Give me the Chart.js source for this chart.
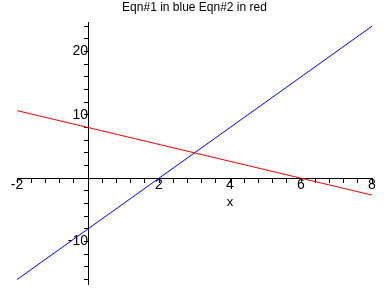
<!DOCTYPE html>
<html>
<head>
<meta charset="utf-8">
<script src="https://cdn.jsdelivr.net/npm/chart.js@4"></script>
<style>
  html, body { margin: 0; padding: 0; background: #fff; }
  #wrap { width: 388px; height: 288px; }
</style>
</head>
<body>
<div id="wrap"><canvas id="grafico" width="388" height="288"></canvas></div>
<script>
// datos
const xValores = [-2, 8];
const azulValores = [-16, 24];
const rojoValores = [10.67, -2.67];

const xEtiquetas = [-2, 2, 4, 6, 8];
const yEtiquetas = [-10, 10, 20];

// marcas menores
const xMarcas = [];
for (let i = -20; i <= 80; i += 4) {
    xMarcas.push(i / 10);
}
const yMarcas = [];
for (let i = -16; i <= 24; i += 2) {
    yMarcas.push(i);
}

const fuente = { family: "'Liberation Sans', Arial, sans-serif", size: 12, weight: "normal" };
const fuenteEje = { family: "'Liberation Sans', Arial, sans-serif", size: 14, weight: "normal" };

function puntos(ys) {
    return xValores.map((x, i) => ({ x: x, y: ys[i] }));
}

function tieneEtiqueta(lista, v) {
    return lista.some(e => Math.abs(e - v) < 1e-9);
}

// etiqueta "x" debajo del eje
const etiquetaX = {
    id: "etiquetaX",
    afterDraw(chart) {
        const ctx = chart.ctx;
        const xs = chart.scales.x;
        const ys = chart.scales.y;
        ctx.save();
        ctx.font = "13px 'Liberation Sans', Arial, sans-serif";
        ctx.fillStyle = "#000";
        ctx.textAlign = "center";
        ctx.textBaseline = "alphabetic";
        ctx.fillText("x", xs.getPixelForValue(4), ys.getPixelForValue(0) + 28);
        ctx.restore();
    }
};

const ctx = document.getElementById("grafico");

new Chart(ctx, {
    type: "scatter",
    data: {
        datasets: [
            {
                label: "Eqn#2",
                data: puntos(rojoValores),
                showLine: true,
                borderColor: "#ff0000",
                borderWidth: 1,
                pointRadius: 0
            },
            {
                label: "Eqn#1",
                data: puntos(azulValores),
                showLine: true,
                borderColor: "#0000ff",
                borderWidth: 1,
                pointRadius: 0
            }
        ]
    },
    options: {
        responsive: false,
        animation: false,
        layout: {
            padding: { left: 17, right: 16, top: 0, bottom: 4 }
        },
        plugins: {
            legend: { display: false },
            tooltip: { enabled: false },
            title: {
                display: true,
                text: "Eqn#1 in blue Eqn#2 in red",
                color: "#000",
                font: fuente,
                padding: { top: 0, bottom: 8 }
            }
        },
        scales: {
            x: {
                type: "linear",
                min: -2,
                max: 8,
                position: { y: 0 },
                afterBuildTicks(scale) {
                    scale.ticks = xMarcas.map(v => ({ value: v }));
                },
                afterFit(scale) {
                    scale.paddingLeft = 0;
                    scale.paddingRight = 0;
                },
                grid: {
                    drawOnChartArea: false,
                    tickLength: 4,
                    color: "#000"
                },
                border: { display: true, color: "#000", width: 1 },
                ticks: {
                    autoSkip: false,
                    maxRotation: 0,
                    color: "#000",
                    font: fuenteEje,
                    padding: -5,
                    callback: (v) => tieneEtiqueta(xEtiquetas, v) ? String(v) : ""
                }
            },
            y: {
                type: "linear",
                min: -16.7,
                max: 24.6,
                position: { x: 0 },
                afterBuildTicks(scale) {
                    scale.ticks = yMarcas.map(v => ({ value: v }));
                },
                afterFit(scale) {
                    scale.paddingTop = 0;
                    scale.paddingBottom = 0;
                },
                grid: {
                    drawOnChartArea: false,
                    tickLength: 4,
                    color: "#000"
                },
                border: { display: true, color: "#000", width: 1 },
                ticks: {
                    autoSkip: false,
                    color: "#000",
                    font: fuenteEje,
                    padding: 4,
                    callback: (v) => tieneEtiqueta(yEtiquetas, v) ? String(v) : ""
                }
            }
        }
    },
    plugins: [etiquetaX]
});
</script>
</body>
</html>
